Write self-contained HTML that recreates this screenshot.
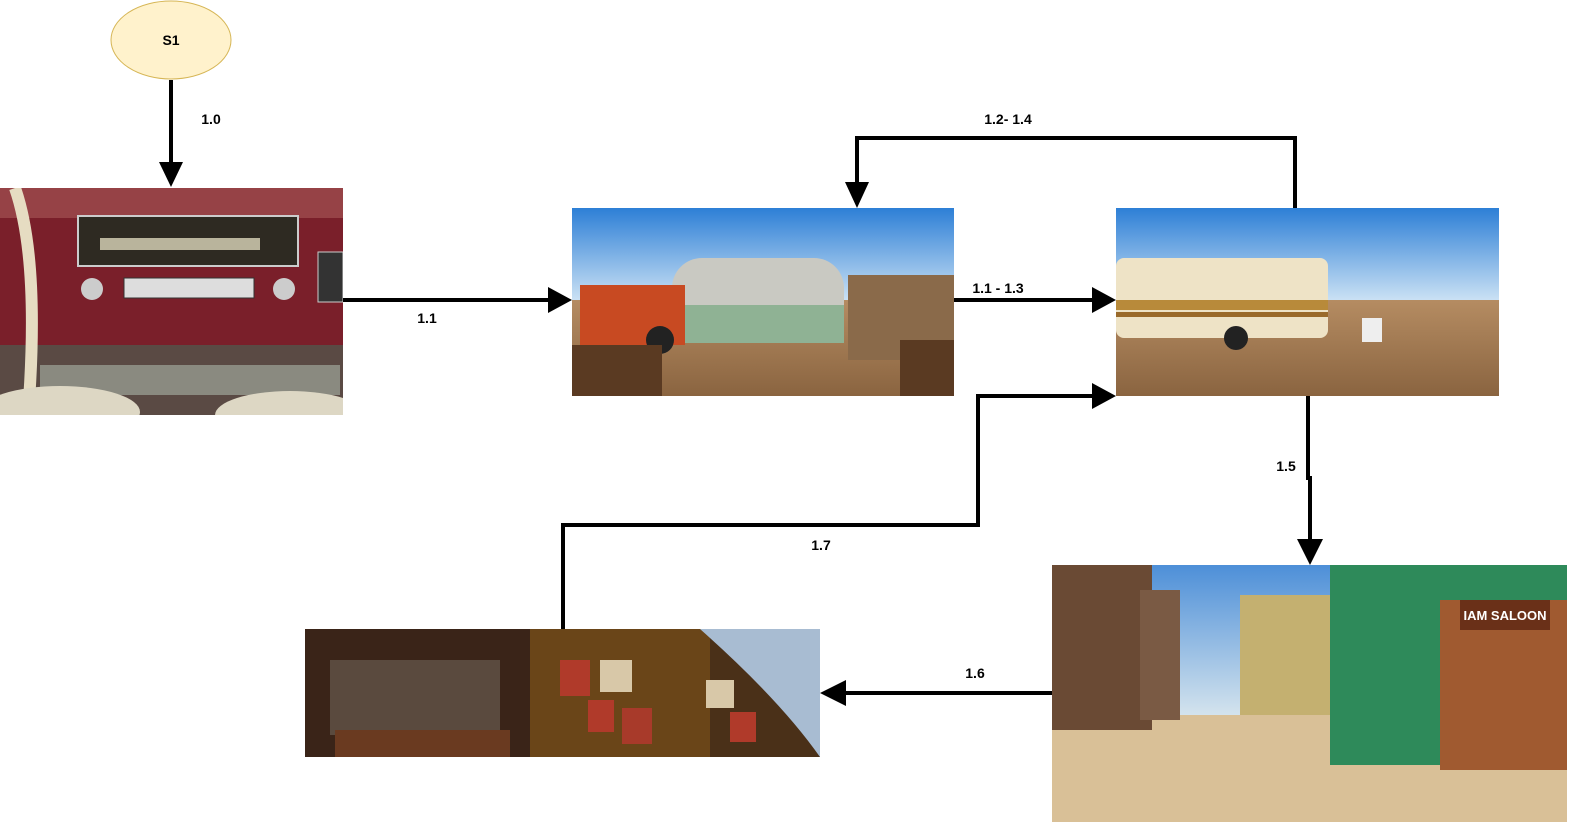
<!DOCTYPE html>
<html><head><meta charset="utf-8"><style>
html,body{margin:0;padding:0;background:#fff;width:1584px;height:832px;overflow:hidden}
svg{display:block}
text{font-family:"Liberation Sans",sans-serif;font-size:14px;font-weight:bold;fill:#000}
</style></head><body>
<svg width="1584" height="832" viewBox="0 0 1584 832" xmlns="http://www.w3.org/2000/svg">
<defs>
<linearGradient id="sky" x1="0" y1="0" x2="0" y2="1"><stop offset="0" stop-color="#2d7fd6"/><stop offset="1" stop-color="#cfe4f5"/></linearGradient>
<linearGradient id="ground" x1="0" y1="0" x2="0" y2="1"><stop offset="0" stop-color="#b58c62"/><stop offset="1" stop-color="#8a6440"/></linearGradient>
<linearGradient id="sky2" x1="0" y1="0" x2="0" y2="1"><stop offset="0" stop-color="#4d8fd8"/><stop offset="1" stop-color="#d8e6ee"/></linearGradient>
<clipPath id="c1"><rect x="0" y="188" width="343" height="227"/></clipPath>
<clipPath id="c5"><rect x="305" y="629" width="515" height="128"/></clipPath>
</defs>
<ellipse cx="171" cy="40" rx="60" ry="39" fill="#fff2cc" stroke="#d6b656"/>
<text x="171" y="45" text-anchor="middle">S1</text>

<g clip-path="url(#c1)">
<rect x="0" y="188" width="343" height="227" fill="#7a1f2a"/>
<rect x="0" y="188" width="343" height="30" fill="#a85a5a" opacity="0.6"/>
<rect x="0" y="345" width="343" height="70" fill="#5a4a44"/>
<rect x="40" y="365" width="300" height="30" fill="#8a8a80"/>
<rect x="78" y="216" width="220" height="50" fill="#2e2a22" stroke="#ccc" stroke-width="2"/>
<rect x="100" y="238" width="160" height="12" fill="#b9b49c"/>
<rect x="124" y="278" width="130" height="20" fill="#ddd" stroke="#333"/>
<circle cx="92" cy="289" r="11" fill="#ccc"/><circle cx="284" cy="289" r="11" fill="#ccc"/>
<rect x="318" y="252" width="25" height="50" fill="#333" stroke="#ccc"/>
<path d="M15 188 Q40 260 28 415" stroke="#e6dcc2" stroke-width="12" fill="none"/>
<ellipse cx="60" cy="412" rx="80" ry="26" fill="#ddd7c4"/>
<ellipse cx="290" cy="415" rx="75" ry="24" fill="#ddd7c4"/>
</g>

<rect x="572" y="208" width="382" height="95" fill="url(#sky)"/>
<rect x="572" y="300" width="382" height="96" fill="url(#ground)"/>
<rect x="672" y="258" width="172" height="85" rx="30" fill="#c9c9c2"/>
<rect x="672" y="305" width="172" height="38" fill="#8fb294"/>
<rect x="580" y="285" width="105" height="60" fill="#c84a22"/>
<circle cx="660" cy="340" r="14" fill="#222"/>
<rect x="848" y="275" width="106" height="85" fill="#8a6a4a"/>
<rect x="572" y="345" width="90" height="51" fill="#5a3a22"/>
<rect x="900" y="340" width="54" height="56" fill="#5a3a22"/>

<rect x="1116" y="208" width="383" height="95" fill="url(#sky)"/>
<rect x="1116" y="300" width="383" height="96" fill="url(#ground)"/>
<rect x="1116" y="258" width="212" height="80" rx="8" fill="#eee3c6"/>
<rect x="1116" y="300" width="212" height="10" fill="#b88a3a"/>
<rect x="1116" y="312" width="212" height="5" fill="#9a6a2a"/>
<circle cx="1236" cy="338" r="12" fill="#222"/>
<rect x="1362" y="318" width="20" height="24" fill="#eee"/>

<rect x="1052" y="565" width="515" height="155" fill="url(#sky2)"/>
<rect x="1052" y="715" width="515" height="107" fill="#d9c097"/>
<rect x="1052" y="565" width="100" height="165" fill="#6a4a34"/>
<rect x="1140" y="590" width="40" height="130" fill="#7a5a44"/>
<rect x="1240" y="595" width="100" height="120" fill="#c4b070"/>
<rect x="1330" y="565" width="237" height="200" fill="#2e8a5a"/>
<rect x="1440" y="600" width="127" height="170" fill="#a05a30"/>
<rect x="1460" y="600" width="90" height="30" fill="#6a3018"/>
<text x="1505" y="620" text-anchor="middle" style="fill:#fff;font-size:13px">IAM SALOON</text>

<g clip-path="url(#c5)">
<rect x="305" y="629" width="515" height="128" fill="#4a3018"/>
<rect x="305" y="629" width="225" height="128" fill="#3a2418"/>
<rect x="330" y="660" width="170" height="75" fill="#5a4a3e"/>
<rect x="335" y="730" width="175" height="27" fill="#6a3a20"/>
<rect x="530" y="629" width="180" height="128" fill="#6a4518"/>
<rect x="560" y="660" width="30" height="36" fill="#b03a2a"/>
<rect x="600" y="660" width="32" height="32" fill="#d8c8a8"/>
<rect x="588" y="700" width="26" height="32" fill="#b03a2a"/>
<rect x="622" y="708" width="30" height="36" fill="#a83a2a"/>
<rect x="706" y="680" width="28" height="28" fill="#d8c8a8"/>
<rect x="730" y="712" width="26" height="30" fill="#b03a2a"/>
<path d="M700 629 L820 629 L820 757 Q780 700 700 629 Z" fill="#a8bcd2"/>
</g>

<g stroke="#000" stroke-width="4" fill="none">
<line x1="171" y1="80" x2="171" y2="168"/>
<line x1="343" y1="300" x2="552" y2="300"/>
<line x1="954" y1="300" x2="1096" y2="300"/>
<polyline points="1295,208 1295,138 857,138 857,188"/>
<polyline points="1308,396 1308,478 1310,478 1310,545"/>
<line x1="1052" y1="693" x2="840" y2="693"/>
<polyline points="563,629 563,525 978,525 978,396 1096,396"/>
</g>
<g fill="#000">
<polygon points="159,162 183,162 171,187"/>
<polygon points="548,287 548,313 572,300"/>
<polygon points="1092,287 1092,313 1116,300"/>
<polygon points="845,182 869,182 857,208"/>
<polygon points="1297,539 1323,539 1310,565"/>
<polygon points="846,680 846,706 820,693"/>
<polygon points="1092,383 1092,409 1116,396"/>
</g>

<text x="211" y="124" text-anchor="middle">1.0</text>
<text x="427" y="323" text-anchor="middle">1.1</text>
<text x="998" y="293" text-anchor="middle">1.1 - 1.3</text>
<text x="1008" y="124" text-anchor="middle">1.2- 1.4</text>
<text x="1286" y="471" text-anchor="middle">1.5</text>
<text x="975" y="678" text-anchor="middle">1.6</text>
<text x="821" y="550" text-anchor="middle">1.7</text>
</svg>
</body></html>
